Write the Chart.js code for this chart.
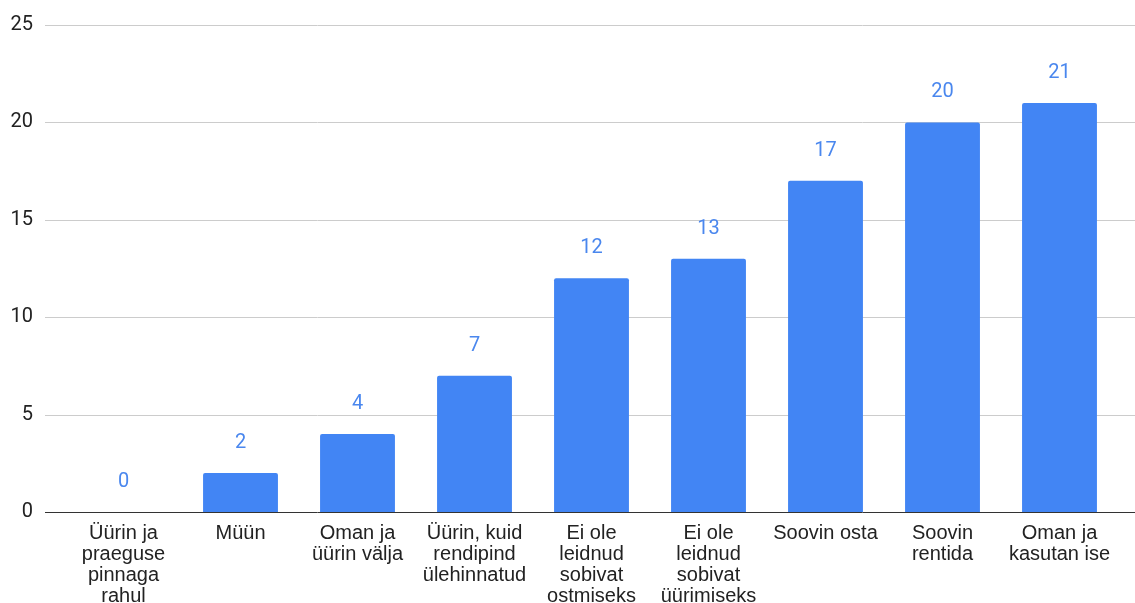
<!DOCTYPE html>
<html>
<head>
<meta charset="utf-8">
<script src="https://cdn.jsdelivr.net/npm/chart.js@4/dist/chart.umd.min.js"></script>
<style>
  html, body { margin: 0; padding: 0; background: #fff; }
  #wrap { width: 1135px; height: 603px; position: relative; }
</style>
</head>
<body>
<div id="wrap"><canvas id="chart"></canvas></div>
<script>
const categories = [
    ['Üürin ja', 'praeguse', 'pinnaga', 'rahul'],
    ['Müün'],
    ['Oman ja', 'üürin välja'],
    ['Üürin, kuid', 'rendipind', 'ülehinnatud'],
    ['Ei ole', 'leidnud', 'sobivat', 'ostmiseks'],
    ['Ei ole', 'leidnud', 'sobivat', 'üürimiseks'],
    ['Soovin osta'],
    ['Soovin', 'rentida'],
    ['Oman ja', 'kasutan ise']
];
const counts = [0, 2, 4, 7, 12, 13, 17, 20, 21];
const yTicks = [0, 5, 10, 15, 20, 25];

const barColor = '#4285f4';
const labelColor = '#4a87ee';

// horizontal grid lines run past the plot area on both sides
const gridLines = {
    id: 'gridLines',
    beforeDatasetsDraw(chart) {
        const ctx = chart.ctx;
        const y = chart.scales.y;
        ctx.save();
        ctx.lineWidth = 1;
        for (const v of yTicks) {
            const py = Math.round(y.getPixelForValue(v)) + 0.5;
            ctx.strokeStyle = v === 0 ? '#333333' : '#cccccc';
            ctx.beginPath();
            ctx.moveTo(45, py);
            ctx.lineTo(1135, py);
            ctx.stroke();
        }
        ctx.restore();
    }
};

// count printed above each bar
const valueLabels = {
    id: 'valueLabels',
    afterDatasetsDraw(chart) {
        const ctx = chart.ctx;
        const meta = chart.getDatasetMeta(0);
        ctx.save();
        ctx.font = '20px Roboto';
        ctx.fillStyle = labelColor;
        ctx.textAlign = 'center';
        ctx.textBaseline = 'middle';
        meta.data.forEach((bar, i) => {
            ctx.fillText(String(counts[i]), bar.x, bar.y - 30);
        });
        ctx.restore();
    }
};

new Chart(document.getElementById('chart'), {
    type: 'bar',
    data: {
        labels: categories,
        datasets: [{
            data: counts,
            backgroundColor: barColor,
            borderRadius: 2,
            borderSkipped: 'bottom',
            barPercentage: 0.64,
            categoryPercentage: 1
        }]
    },
    options: {
        responsive: true,
        maintainAspectRatio: false,
        animation: false,
        layout: { padding: { top: 25, right: 17, left: 0, bottom: 0 } },
        plugins: {
            legend: { display: false },
            tooltip: { enabled: false }
        },
        scales: {
            x: {
                grid: { display: false, drawTicks: false },
                border: { display: false },
                ticks: {
                    color: '#222222',
                    padding: 11,
                    autoSkip: false,
                    maxRotation: 0,
                    font: { family: 'Arial, "Liberation Sans"', size: 20, lineHeight: 1.05 }
                },
                afterFit(scale) {
                    scale.height = 91;
                    scale.paddingLeft = 0;
                    scale.paddingRight = 0;
                }
            },
            y: {
                min: 0,
                max: 25,
                grid: { display: false, drawTicks: false },
                border: { display: false },
                ticks: {
                    stepSize: 5,
                    color: '#222222',
                    padding: 32,
                    font: { family: 'Roboto', size: 20 }
                },
                afterFit(scale) {
                    scale.width = 65;
                    scale.paddingTop = 0;
                    scale.paddingBottom = 0;
                }
            }
        }
    },
    plugins: [gridLines, valueLabels]
});
</script>
</body>
</html>
